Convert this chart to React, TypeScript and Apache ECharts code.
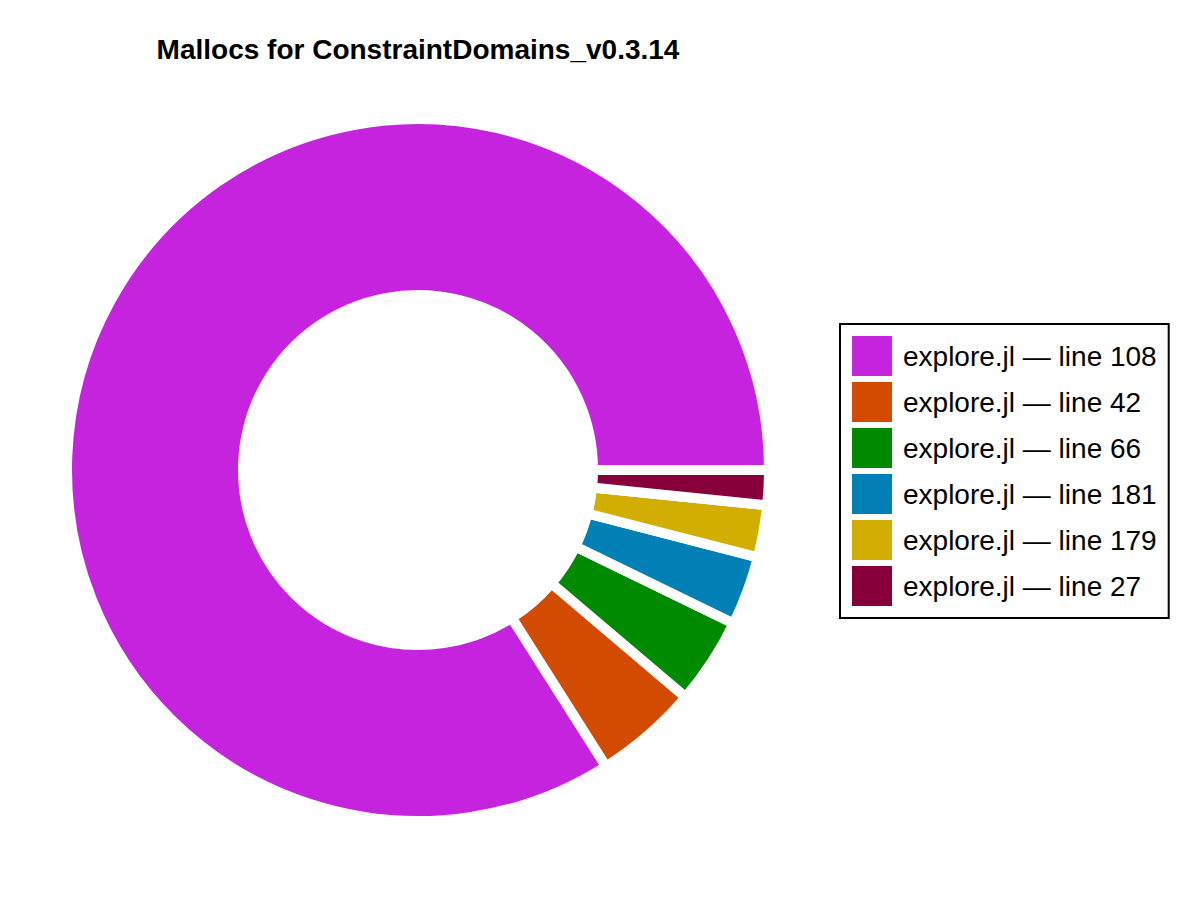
import React, { useEffect, useRef } from "react";
import * as echarts from "echarts";

const titleText = "Mallocs for ConstraintDomains_v0.3.14";
const categories = [
  "explore.jl — line 108",
  "explore.jl — line 42",
  "explore.jl — line 66",
  "explore.jl — line 181",
  "explore.jl — line 179",
  "explore.jl — line 27",
];
const values = [840, 48, 40, 32, 24, 16];
const colors = ["#C523DE", "#D24B00", "#008A00", "#0080B4", "#D1AE00", "#88003A"];

export default function App() {
  const ref = useRef<HTMLDivElement>(null);
  useEffect(() => {
    if (!ref.current) return;
    const chart = echarts.init(ref.current, null, { renderer: "svg" });
    const font = "'Liberation Sans', Arial, Helvetica, sans-serif";
    chart.setOption({
      animation: false,
      backgroundColor: "#ffffff",
      title: {
        text: titleText,
        left: 413,
        top: 30,
        textAlign: "center",
        textStyle: { fontFamily: font, fontSize: 28, fontWeight: "bold", color: "#000" },
      },
      legend: {
        orient: "vertical",
        left: 840,
        top: 324,
        padding: [12, 12, 12, 12],
        itemGap: 6,
        itemWidth: 40,
        itemHeight: 40,
        icon: "rect",
        borderColor: "#000",
        borderWidth: 2,
        itemStyle: { borderWidth: 0 },
        textStyle: { fontFamily: font, fontSize: 28, color: "#000", padding: [0, 0, 0, 6] },
        selectedMode: false,
        data: categories,
      },
      series: [
        {
          type: "pie",
          center: [418, 470],
          radius: [175, 351],
          startAngle: 0,
          clockwise: false,
          silent: true,
          label: { show: false },
          labelLine: { show: false },
          emphasis: { disabled: true },
          itemStyle: { borderColor: "#ffffff", borderWidth: 10 },
          data: categories.map((name, i) => ({
            name,
            value: values[i],
            itemStyle: { color: colors[i] },
          })),
        },
      ],
    });
    return () => chart.dispose();
  }, []);
  return (
    <div
      ref={ref}
      style={{ position: "fixed", left: 0, top: 0, width: 1200, height: 900 }}
    />
  );
}
